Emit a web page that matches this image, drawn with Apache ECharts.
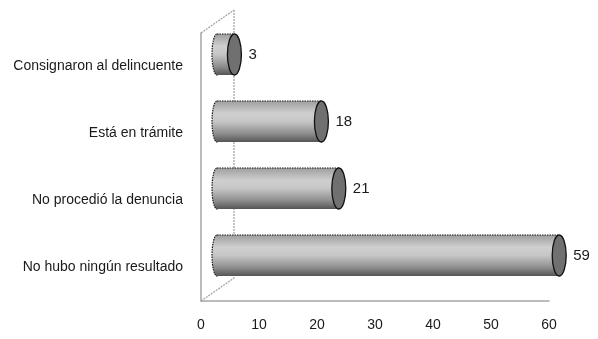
<!DOCTYPE html>
<html>
<head>
<meta charset="utf-8">
<script src="https://cdn.jsdelivr.net/npm/echarts@6/dist/echarts.min.js"></script>
<style>
  html, body { margin: 0; padding: 0; background: #fff; }
  #chart { width: 598px; height: 339px; }
</style>
</head>
<body>
<div id="chart"></div>
<script>
// Outcome of the complaint, shown as 3D-style cylinder bars
var categories = [
  'Consignaron al delincuente',
  'Está en trámite',
  'No procedió la denuncia',
  'No hubo ningún resultado'
];
var values = [3, 18, 21, 59];
var xTicks = [0, 10, 20, 30, 40, 50, 60];

var FONT = '"Liberation Sans Narrow", "Arial Narrow", "Liberation Sans", Arial, sans-serif';
// depth of the pseudo-3D box and how far into it the bars sit
var DEPTH_X = 33, DEPTH_Y = -23;
var BAR_DX = 16, BAR_DY = -12;
var BAR_H = 41, CAP_RX = 7, LEFT_RX = 5;

var chart = echarts.init(document.getElementById('chart'), null, { renderer: 'canvas' });

function renderCylinder(params, api) {
  var v = api.value(1);
  var c = api.value(0);
  var p0 = api.coord([0, c]);
  var p1 = api.coord([v, c]);
  var x0 = p0[0] + BAR_DX;
  var x1 = p1[0] + BAR_DX;
  var cy = p0[1] + BAR_DY;
  var top = cy - BAR_H / 2;
  var grad = new echarts.graphic.LinearGradient(0, 0, 0, 1, [
    { offset: 0, color: '#9e9e9e' },
    { offset: 0.3, color: '#cfcfcf' },
    { offset: 0.5, color: '#c6c6c6' },
    { offset: 0.8, color: '#8c8c8c' },
    { offset: 1, color: '#555555' }
  ]);
  return {
    type: 'group',
    children: [
      {
        type: 'ellipse',
        shape: { cx: x0, cy: cy, rx: LEFT_RX, ry: BAR_H / 2 },
        style: { fill: grad, stroke: '#1a1a1a', lineWidth: 1.2, lineDash: [1.5, 1] }
      },
      {
        type: 'rect',
        shape: { x: x0, y: top, width: Math.max(x1 - x0, 0), height: BAR_H },
        style: { fill: grad }
      },
      {
        type: 'line',
        shape: { x1: x0, y1: top, x2: x1, y2: top },
        style: { stroke: '#1a1a1a', lineWidth: 1.2, lineDash: [1.5, 1] }
      },
      {
        type: 'ellipse',
        shape: { cx: x1, cy: cy, rx: CAP_RX, ry: BAR_H / 2 },
        style: { fill: '#707070', stroke: '#111', lineWidth: 1.3 }
      },
      {
        type: 'text',
        x: x1 + CAP_RX + 7,
        y: cy,
        style: {
          text: String(v),
          fill: '#1a1a1a',
          font: '15px ' + FONT,
          align: 'left',
          verticalAlign: 'middle'
        }
      }
    ]
  };
}

var option = {
  animation: false,
  backgroundColor: '#ffffff',
  grid: { left: 201, right: 49, top: 33, bottom: 38, containLabel: false },
  xAxis: {
    type: 'value',
    min: xTicks[0],
    max: xTicks[xTicks.length - 1],
    interval: 10,
    axisLine: { show: true, lineStyle: { color: '#a6a6a6', width: 1.5 } },
    axisTick: { show: false },
    splitLine: { show: false },
    axisLabel: { color: '#1a1a1a', fontSize: 14, fontFamily: FONT, margin: 17 }
  },
  yAxis: {
    type: 'category',
    inverse: true,
    data: categories,
    axisLine: { show: true, lineStyle: { color: '#a6a6a6', width: 1.5 } },
    axisTick: { show: false },
    axisLabel: { color: '#1a1a1a', fontSize: 14, fontFamily: FONT, margin: 18 }
  },
  series: [{
    type: 'custom',
    renderItem: renderCylinder,
    data: values.map(function (v, i) { return [i, v]; }),
    encode: { x: 1, y: 0 },
    z: 5
  }]
};
chart.setOption(option);

// Side wall and floor edges of the 3D box, placed from the axis scales
var origin = chart.convertToPixel({ gridIndex: 0 }, [0, 0]);
var gridRect = chart.getModel().getComponent('grid').coordinateSystem.getRect();
var fx = gridRect.x, ftop = gridRect.y, fbot = gridRect.y + gridRect.height;
var wallStyle = { stroke: '#a6a6a6', lineWidth: 1.3, lineDash: [2, 1] };
chart.setOption({
  graphic: [
    { type: 'line', z: 1, shape: { x1: fx, y1: ftop, x2: fx + DEPTH_X, y2: ftop + DEPTH_Y }, style: wallStyle },
    { type: 'line', z: 1, shape: { x1: fx + DEPTH_X, y1: ftop + DEPTH_Y, x2: fx + DEPTH_X, y2: fbot + DEPTH_Y }, style: wallStyle },
    { type: 'line', z: 1, shape: { x1: fx, y1: fbot, x2: fx + DEPTH_X, y2: fbot + DEPTH_Y }, style: wallStyle }
  ]
});
</script>
</body>
</html>
